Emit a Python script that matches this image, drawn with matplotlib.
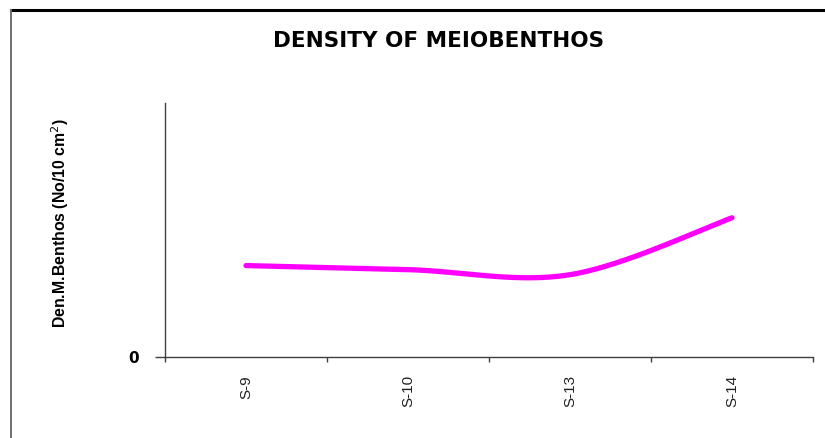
import numpy as np
import matplotlib
matplotlib.use("Agg")
import matplotlib.pyplot as plt
from matplotlib.lines import Line2D

plt.rcParams['font.family'] = ['Liberation Sans', 'DejaVu Sans']

stations = ["S-9", "S-10", "S-13", "S-14"]
density = [90, 86, 81, 137]
y_max = 250

title = "DENSITY OF MEIOBENTHOS"
y_label = "Den.M.Benthos (No/10 cm$^{2}$)"


def smooth_curve(xs, ys, n=60):
    """Cubic Bezier smoothing through every point (Catmull-Rom style control points)."""
    xs = np.asarray(xs, float)
    ys = np.asarray(ys, float)
    px = np.concatenate([[xs[0]], xs, [xs[-1]]])
    py = np.concatenate([[ys[0]], ys, [ys[-1]]])
    out_x, out_y = [], []
    t = np.linspace(0, 1, n)
    for i in range(1, len(xs)):
        p0 = np.array([px[i], py[i]])
        p3 = np.array([px[i + 1], py[i + 1]])
        c1 = p0 + (np.array([px[i + 1], py[i + 1]]) - np.array([px[i - 1], py[i - 1]])) / 6
        c2 = p3 - (np.array([px[i + 2], py[i + 2]]) - np.array([px[i], py[i]])) / 6
        b = ((1 - t) ** 3)[:, None] * p0 + (3 * (1 - t) ** 2 * t)[:, None] * c1 \
            + (3 * (1 - t) * t ** 2)[:, None] * c2 + (t ** 3)[:, None] * p3
        out_x.extend(b[:, 0])
        out_y.extend(b[:, 1])
    return np.array(out_x), np.array(out_y)


W, H = 825, 438
fig = plt.figure(figsize=(W / 100, H / 100), dpi=100)
fig.patch.set_facecolor("white")

# chart frame: heavy top edge, thin grey left edge
fig.add_artist(Line2D([11 / W, 1.0], [1 - 10 / H, 1 - 10 / H], color="black", lw=2.2,
                      transform=fig.transFigure))
fig.add_artist(Line2D([11 / W, 11 / W], [0.0, 1 - 10 / H], color="#707070", lw=1.4,
                      transform=fig.transFigure))

ax = fig.add_axes([165 / W, 1 - 357 / H, (813 - 165) / W, (357 - 103) / H])
x = np.arange(len(stations))
sx, sy = smooth_curve(x, density)
ax.plot(sx, sy, color="#FF00FF", lw=3.8, solid_capstyle="round")

ax.set_xlim(-0.5, len(stations) - 0.5)
ax.set_ylim(0, y_max)

for side in ("top", "right"):
    ax.spines[side].set_visible(False)
for side in ("left", "bottom"):
    ax.spines[side].set_color("#404040")
    ax.spines[side].set_linewidth(1.0)

ax.set_xticks(x)
ax.set_xticklabels(stations, rotation=90, fontsize=11, color="#222222")
ax.set_xticks(np.arange(-0.5, len(stations)), minor=True)
ax.tick_params(axis="x", which="major", length=0, pad=13)
ax.tick_params(axis="x", which="minor", length=3.6, width=1.0, color="#404040", direction="out")

ax.set_yticks([0])
ax.set_yticklabels(["0"], fontsize=11, fontweight="bold", family=["DejaVu Sans"])
ax.tick_params(axis="y", length=7.2, width=1.0, color="#404040", direction="out", pad=11.5)

fig.text(60 / W, 1 - 223 / H, y_label, rotation=90, ha="center", va="center",
         fontsize=11.4, fontweight="bold")
fig.text(439 / W, 1 - 41 / H, title, ha="center", va="center",
         fontsize=15.5, fontweight="bold", family=["DejaVu Sans"])

fig.savefig("out.png", dpi=100, facecolor="white")
